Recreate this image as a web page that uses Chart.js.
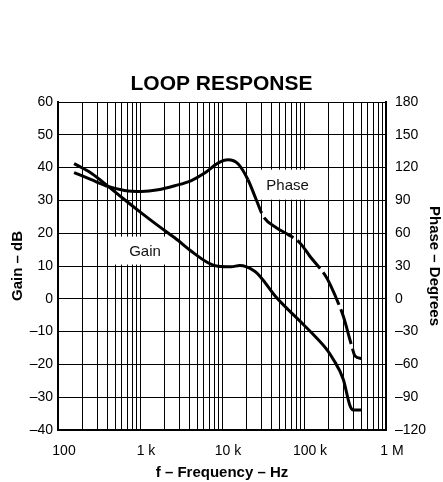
<!DOCTYPE html>
<html><head><meta charset="utf-8">
<script src="https://cdn.jsdelivr.net/npm/chart.js@4"></script>
<style>html,body{margin:0;padding:0;background:#fff}canvas{display:block}</style>
</head><body>
<canvas id="c" width="443" height="482"></canvas>
<script>
// ---- data ----
const gainFreq  = [157, 255, 447, 650, 1037, 1660, 2650, 4230, 6750, 8930, 12970, 16440, 25060, 29000, 46500, 89300, 129000, 189000, 227000, 301000, 364000, 399000, 509000];
const gainDb    = [41.2, 38.3, 33.5, 30.2, 26.2, 22.3, 18.6, 14.5, 11.0, 9.9, 9.75, 10.15, 8.4, 6.9, 0.3, -6.8, -10.8, -15.4, -18.4, -24.5, -32.6, -33.9, -33.9];
const phaseFreq = [157, 255, 407, 650, 1037, 1660, 2650, 4230, 6150, 8930, 11830, 15660, 20740, 26170, 31900, 46500, 64400, 89300, 118000, 189000, 227000, 251000, 301000, 382000, 419000, 505000];
const phaseDeg  = [115.5, 108.9, 102.8, 99.1, 98.2, 99.7, 103.4, 108.2, 115, 124.1, 127.1, 123.5, 108.9, 90.6, 75.4, 64.8, 58.7, 51.1, 38.9, 19.2, 7, -0.6, -15.8, -43.1, -52.3, -54.6];
const decadeLabels = {100: '100', 1000: '1 k', 10000: '10 k', 100000: '100 k', 1000000: '1 M'};
const gainTickValues  = [-40, -30, -20, -10, 0, 10, 20, 30, 40, 50, 60];
const phaseTickValues = [-120, -90, -60, -30, 0, 30, 60, 90, 120, 150, 180];
const seriesNames = ['Gain', 'Phase'];
const titleText = 'LOOP RESPONSE';
const xTitle = 'f \u2013 Frequency \u2013 Hz';
const yTitle = 'Gain \u2013 dB';
const y1Title = 'Phase \u2013 Degrees';
// label anchors in data coordinates (freq, dB)
const labelAnchors = [{text: 'Gain', f: 1150, v: 14.7, w: 61, h: 28}, {text: 'Phase', f: 63000, v: 34.8, w: 81, h: 30}];

const FONT = '"Liberation Sans", Arial, Helvetica, sans-serif';
const fmtMinus = v => String(v).replace('-', '\u2013');

const xTickList = [];
for (let d = 100; d <= 1000000; d *= 10) {
  for (let m = 1; m <= 9; m++) { const v = d * m; if (v <= 1000000) xTickList.push(v); }
}

const labelPlugin = {
  id: 'labelBoxes',
  beforeDatasetsDraw(chart) {
    const {ctx, scales} = chart;
    ctx.save();
    labelAnchors.forEach(a => {
      const cx = scales.x.getPixelForValue(a.f);
      const cy = scales.y.getPixelForValue(a.v);
      ctx.fillStyle = '#fff';
      ctx.fillRect(cx - a.w / 2, cy - a.h / 2, a.w, a.h);
      ctx.fillStyle = '#111';
      ctx.font = '15px ' + FONT;
      ctx.textAlign = 'center';
      ctx.textBaseline = 'middle';
      ctx.fillText(a.text, cx, cy + 1);
    });
    ctx.restore();
  }
};

new Chart(document.getElementById('c'), {
  type: 'line',
  data: {
    datasets: [
      {
        label: seriesNames[0],
        data: gainFreq.map((f, i) => ({x: f, y: gainDb[i]})),
        yAxisID: 'y',
        borderColor: '#000', borderWidth: 3, pointRadius: 0,
        cubicInterpolationMode: 'monotone', fill: false
      },
      {
        label: seriesNames[1],
        data: phaseFreq.map((f, i) => ({x: f, y: phaseDeg[i]})),
        yAxisID: 'y1',
        borderColor: '#000', borderWidth: 3, pointRadius: 0,
        cubicInterpolationMode: 'monotone', fill: false,
        segment: { borderDash: c => c.p0.parsed.x >= 20000 ? [36, 5] : undefined }
      }
    ]
  },
  options: {
    responsive: false, animation: false, devicePixelRatio: 1,
    layout: {padding: 0},
    plugins: {
      legend: {display: false}, tooltip: {enabled: false},
      title: {display: true, text: titleText, color: '#000',
        font: {family: FONT, size: 21, weight: 'bold', lineHeight: 1.2},
        padding: {top: 72, bottom: 4.8}}
    },
    scales: {
      x: {
        type: 'logarithmic', min: 100, max: 1000000,
        afterBuildTicks: s => { s.ticks = xTickList.map(v => ({value: v})); },
        afterFit: s => { s.height = 52; },
        ticks: {autoSkip: false, maxRotation: 0, minRotation: 0, padding: 13, labelOffset: 6, color: '#000',
          font: {family: FONT, size: 14},
          callback: v => decadeLabels[v] || ''},
        grid: {color: '#000', lineWidth: 1, drawTicks: false},
        border: {color: '#000', width: 2},
        title: {display: true, text: xTitle, color: '#000', font: {family: FONT, size: 15, weight: 'bold', lineHeight: 1.2}, padding: {top: 0, bottom: 0}}
      },
      y: {
        position: 'left', min: -40, max: 60,
        afterBuildTicks: s => { s.ticks = gainTickValues.map(v => ({value: v})); },
        afterFit: s => { s.width = 58; },
        ticks: {padding: 5, color: '#000', font: {family: FONT, size: 14}, callback: v => fmtMinus(v)},
        grid: {color: '#000', lineWidth: 1, drawTicks: false},
        border: {color: '#000', width: 2},
        title: {display: true, text: yTitle, color: '#000', font: {family: FONT, size: 15, weight: 'bold', lineHeight: 1.2}, padding: {top: 9, bottom: 0}}
      },
      y1: {
        position: 'right', min: -120, max: 180,
        afterBuildTicks: s => { s.ticks = phaseTickValues.map(v => ({value: v})); },
        afterFit: s => { s.width = 57; },
        ticks: {padding: 9, color: '#000', font: {family: FONT, size: 14}, callback: v => fmtMinus(v)},
        grid: {display: false, drawTicks: false},
        border: {color: '#000', width: 2},
        title: {display: true, text: y1Title, color: '#000', font: {family: FONT, size: 15, weight: 'bold', lineHeight: 1.2}, padding: {top: 0, bottom: 0}}
      }
    }
  },
  plugins: [labelPlugin]
});
</script>
</body></html>
